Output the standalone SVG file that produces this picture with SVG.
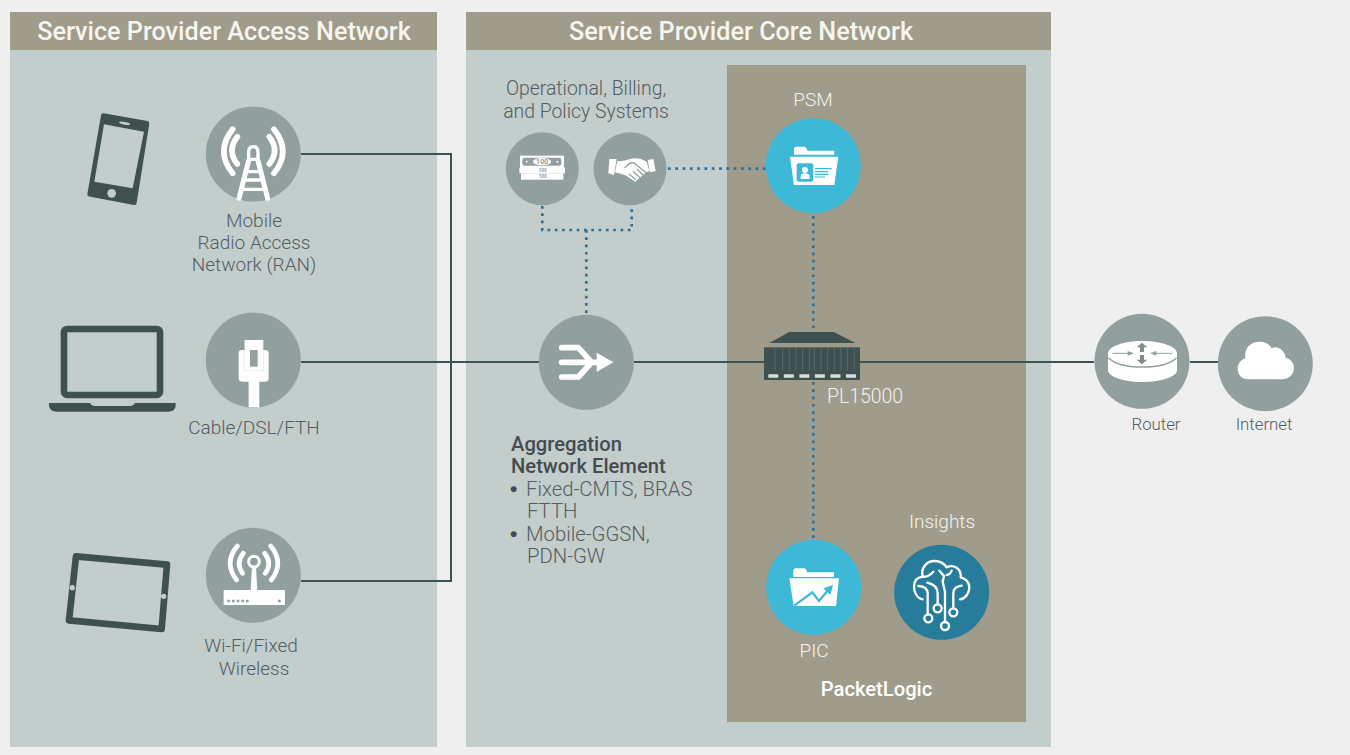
<svg xmlns="http://www.w3.org/2000/svg" width="1350" height="755" viewBox="0 0 1350 755">
<style>
text{font-family:"Roboto","Liberation Sans",Arial,sans-serif;font-weight:300;font-size:19px;fill:#535d64}
.c{text-anchor:middle}
.h{font-size:25.200px;font-weight:500;fill:#f6f5f0;text-anchor:middle}
.b{font-weight:500;font-size:20.200px;fill:#454c50}
.l{font-size:20.300px}
.o{font-size:19.400px}
.bu{font-family:"Liberation Sans",Arial,sans-serif;font-weight:700;font-size:21px;fill:#454c50}
.w{fill:#f3f3ee}
.s{font-size:16.800px}
.g{fill:#91a09e}
.bl{fill:#3db8d7}
.ink{fill:#3f5050}
.conn{fill:none;stroke:#3f5252;stroke-width:2}
.dot{fill:none;stroke:#2f7096;stroke-width:2.7;stroke-dasharray:2.7 4.6}
.wl{fill:none;stroke:#fff;stroke-linecap:round;stroke-linejoin:round}
.z{fill:#fff}
.n{font-size:22px;font-weight:700;fill:#91a09e;text-anchor:middle}
.m{font-size:14px}
</style>
<rect width="1350" height="755" fill="#efefef"/>
<g id="panel-access"><rect x="10" y="12" width="427" height="735" fill="#c3cdcb"/><rect x="10" y="12" width="427" height="38" fill="#a09c8b"/><text class="h" x="224" y="40">Service Provider Access Network</text></g>
<g id="panel-core"><rect x="466" y="12" width="585" height="735" fill="#c3cdcb"/><rect x="466" y="12" width="585" height="38" fill="#a09c8b"/><text class="h" x="741" y="40">Service Provider Core Network</text></g>
<g id="panel-packetlogic"><rect x="727" y="65" width="299" height="657" fill="#a09c8b"/><text class="b" style="fill:#fff" x="876.500" y="696" text-anchor="middle">PacketLogic</text></g>

<g id="connectors">
<path class="conn" d="M301 154H451V581H301"/>
<path class="conn" d="M301 362H539M634 362H764M860 362H1094M1190 362H1218"/>
<path class="dot" d="M668 168.700H766"/>
<path class="dot" d="M542.300 206V230H631.700V206"/>
<path class="dot" d="M586.300 230V315"/>
<path class="dot" d="M813.300 216V332M813.300 382V541"/>
</g>

<g id="device-phone"><g transform="translate(40 90) scale(.3333)">
<path class="ink" stroke="#3f5050" stroke-width="14" stroke-linejoin="round" d="M190 77L321 100L283 338L149 313Z"/>
<path fill="#c3cdcb" d="M192 103L312 125L278 295L163 275Z"/>
<ellipse cx="254" cy="100" rx="17" ry="4" fill="#c3cdcb" transform="rotate(10 254 100)"/>
<circle cx="215" cy="310" r="13" fill="#c3cdcb"/></g></g>

<g id="node-ran"><circle class="g" cx="253.300" cy="154" r="47.500"/><g transform="translate(40 90) scale(.3333)">
<path class="wl" stroke-width="17" d="M578 118Q525 185 578 250M592 140Q560 182 592 222M702 118Q755 185 702 250M688 140Q720 182 688 222"/>
<path class="wl" stroke-width="10" d="M626 208V186Q626 170 640 170Q654 170 654 186V208Z"/>
<path class="wl" stroke-width="15" stroke-linecap="butt" d="M626 212L597 325M654 212L683 325"/>
<path class="wl" stroke-width="10" stroke-linecap="butt" d="M618 245H662M610 270H670M602 298H678"/>
</g><text class="c" x="254" y="227">Mobile</text><text class="c" x="254" y="249">Radio Access</text><text class="c" x="254" y="271">Network (RAN)</text></g>

<g id="device-laptop"><g transform="translate(40 300) scale(.3333)">
<rect x="72" y="87" width="288" height="198" rx="10" fill="none" stroke="#3f5050" stroke-width="20"/>
<path class="ink" d="M27 309H150Q155 318 165 318H270Q280 318 285 309H407V318Q405 335 385 335H50Q30 335 27 318Z"/></g></g>

<g id="node-cable"><circle class="g" cx="253.300" cy="360" r="47.500"/><g transform="translate(40 300) scale(.3333)">
<path class="z" fill-rule="evenodd" d="M614 120H670V150H676Q686 150 686 160V235Q686 245 676 245H658V322H626V245H606Q596 245 596 235V160Q596 150 606 150H614ZM630 150V200H653V150Z"/>
<path fill="none" stroke="#dfe5e4" stroke-width="2" d="M612 150V212H671V150"/></g><text class="c" x="254" y="434">Cable/DSL/FTH</text></g>

<g id="device-tablet"><g transform="translate(50 520) scale(.3333)">
<path fill="#c3cdcb" stroke="#3f5050" stroke-width="20" stroke-linejoin="round" d="M78 109L351 134L335 327L57 301Z"/>
<circle cx="67" cy="203" r="8" fill="#c3cdcb"/><circle cx="341" cy="229" r="8" fill="#c3cdcb"/></g></g>

<g id="node-wifi"><circle class="g" cx="253.300" cy="575.300" r="47.500"/><g transform="translate(50 520) scale(.3333)">
<path class="wl" stroke-width="14" d="M562 78Q520 128 560 180M580 100Q556 130 578 160M662 78Q704 128 664 180M644 100Q668 130 646 160"/>
<circle cx="612" cy="125" r="16" fill="none" stroke="#fff" stroke-width="9"/>
<path class="z" d="M606 140H618L622 212H602Z"/><rect class="z" x="521" y="210" width="184" height="45"/>
<path fill="none" stroke="#91a09e" stroke-width="8" stroke-dasharray="8 6" d="M532 243H600M684 243H694"/></g><text class="c" x="251" y="652">Wi-Fi/Fixed</text><text class="c" x="254" y="675">Wireless</text></g>

<g id="node-billing"><circle class="g" cx="542.300" cy="168.700" r="36.500"/><g transform="translate(510 145) scale(.3333)">
<rect class="z" x="33" y="85" width="127" height="19"/><text class="n m" x="98" y="100">100</text>
<rect class="z" x="28" y="68" width="137" height="17"/><text class="n m" x="98" y="82">100</text>
<rect class="z" x="30" y="32" width="132" height="37"/>
<rect x="37" y="38" width="117" height="24" rx="8" class="g"/><ellipse cx="96" cy="50" rx="27" ry="11" class="z"/>
<circle class="z" cx="50" cy="50" r="3"/><circle class="z" cx="142" cy="50" r="3"/>
<text class="n" x="96" y="57">100</text></g></g>

<g id="node-partner"><circle class="g" cx="630" cy="168.700" r="36.500"/><g transform="translate(510 145) scale(.3333)">
<path class="z" d="M298 42L320 42L312 90L295 85ZM413 45L430 42L437 78L420 82Z"/>
<path class="z" d="M322 48Q340 50 360 42Q385 35 410 50L418 78L405 85L375 110L360 100L345 90L315 82Z"/>
<path fill="none" stroke="#91a09e" stroke-width="4" stroke-linecap="round" d="M345 68Q360 50 372 54L410 84M388 96L370 80M398 89L382 73M376 103L358 88"/></g></g>
<text x="586" y="95" class="c o">Operational, Billing,</text><text x="586" y="118" class="c o">and Policy Systems</text>

<g id="node-psm"><circle class="bl" cx="813.300" cy="165.700" r="47.500"/><g transform="translate(495 120) scale(.3333)">
<path class="z" d="M897 104V88Q897 80 905 80H928Q935 80 937 92H1018V104Z"/><path class="z" d="M885 110H1030L1018 195H897Z"/>
<rect class="bl" x="905" y="130" width="50" height="55" rx="6"/><circle class="z" cx="930" cy="150" r="9"/><path class="z" d="M917 177V170Q917 160 930 160Q944 160 944 170V177Z"/>
<path stroke="#3db8d7" stroke-width="3.500" d="M960 146H1010M960 155H1000M960 163H1000M960 171H990"/></g><text class="w c" x="813" y="106">PSM</text></g>

<g id="node-aggregation"><circle class="g" cx="586.300" cy="362.300" r="47.500"/><g transform="translate(530 310) scale(.3333)">
<path class="wl" stroke-width="17" d="M95 113H145L185 157M95 157H205M95 201H145L185 157"/><path class="z" d="M200 128L250 157L200 186Z"/></g>
<text class="b" x="511" y="451">Aggregation</text><text class="b" x="511" y="473">Network Element</text>
<text class="l" x="510" y="496"><tspan class="bu">•</tspan><tspan x="526">Fixed-CMTS, BRAS</tspan></text><text class="l" x="527" y="518">FTTH</text><text class="l" x="510" y="541"><tspan class="bu">•</tspan><tspan x="526">Mobile-GGSN,</tspan></text><text class="l" x="527" y="563">PDN-GW</text></g>

<g id="node-pl15000"><g transform="translate(530 310) scale(.3333)">
<path class="ink" d="M778 66H912L976 99H718Z"/><rect class="ink" x="702" y="112" width="288" height="98"/>
<path stroke="#566868" stroke-width="3" d="M735 114V182M758 114V182M778 114V182M798 114V182M818 114V182M838 114V182M853 114V182M873 114V182M893 114V182M913 114V182M933 114V182M953 114V182M973 114V182"/>
<path fill="none" stroke="#d9dedd" stroke-width="10" stroke-dasharray="30 16.600" d="M715 198H980"/></g><text class="w o" x="827" y="403">PL15000</text></g>

<g id="node-pic"><circle class="bl" cx="813.700" cy="587.300" r="47.500"/><g transform="translate(755 535) scale(.3333)">
<path class="z" d="M115 126V108Q115 100 123 100H147Q154 100 156 112H237V126Z"/><path class="z" d="M103 130H252L243 213H116Z"/>
<path fill="none" stroke="#3db8d7" stroke-width="7" d="M118 212L172 172L192 198L222 162"/><path class="bl" d="M205 160L234 150L226 180Z"/></g><text class="w c" x="814" y="657">PIC</text></g>

<g id="node-insights"><circle fill="#277c9b" cx="941.700" cy="592.300" r="47.500"/><g transform="translate(900 550) scale(.3333)">
<g fill="none" stroke="#fff" stroke-width="7" stroke-linecap="round" stroke-linejoin="round">
<path d="M68 148C50 145 42 125 42 110C42 92 52 82 68 80C62 55 78 35 100 33C118 32 132 40 140 52C160 42 185 55 182 82C198 85 208 98 208 112C208 130 195 148 180 148"/>
<path d="M83 193V130Q83 110 55 108M113 163V130Q113 105 82 98M135 216V125L128 95L132 78L118 62M160 175V130Q160 110 185 107M68 80Q85 82 100 65M140 75Q150 75 155 62"/>
<circle cx="85" cy="205" r="12"/><circle cx="113" cy="175" r="12"/><circle cx="135" cy="228" r="12"/><circle cx="160" cy="187" r="12"/></g></g><text class="w c" x="942" y="528">Insights</text></g>

<g id="node-router"><circle class="g" cx="1142" cy="361.300" r="47.500"/><g transform="translate(1085 305) scale(.3333)">
<path class="z" d="M69 145C69 125 115 108 172 108C229 108 276 125 276 145V195C276 215 229 231 172 231C115 231 69 215 69 195Z"/>
<path fill="none" stroke="#91a09e" stroke-width="4" d="M70 158C90 178 130 186 172 186C214 186 255 178 275 158"/>
<path fill="none" stroke="#91a09e" stroke-width="3" d="M82 145H130M262 145H212"/><path class="g" d="M128 138L147 145L128 152ZM214 138L195 145L214 152Z"/>
<path fill="none" stroke="#7d8e8c" stroke-width="12" d="M171 125V141M171 150V166"/><path fill="#7d8e8c" d="M155 127L171 113L187 127ZM155 164L171 178L187 164Z"/></g><text class="c s" x="1156" y="430">Router</text></g>

<g id="node-internet"><circle class="g" cx="1265.300" cy="363.700" r="47.500"/><g transform="translate(1085 305) scale(.3333)">
<path class="z" d="M490 223H590C615 223 627 205 627 190C627 170 612 160 602 158C600 135 575 120 560 130C550 110 525 108 510 112C490 118 478 135 481 160C465 165 458 180 458 190C458 210 470 223 490 223Z"/></g><text class="c s" x="1264" y="430">Internet</text></g>
</svg>
